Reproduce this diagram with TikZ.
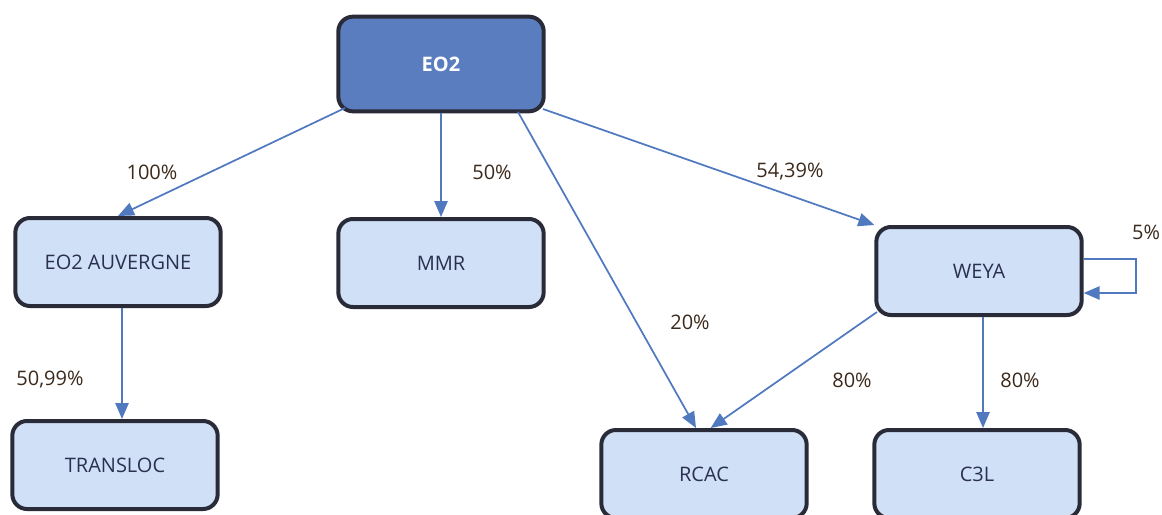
\documentclass[tikz,border=0pt]{standalone}
\usepackage{fontspec}
\setmainfont{Open Sans}
\usetikzlibrary{arrows.meta}
\definecolor{boxfill}{HTML}{D0E1F7}
\definecolor{topfill}{HTML}{5A7DC0}
\definecolor{boxline}{HTML}{2A2B38}
\definecolor{boxtext}{HTML}{2B3050}
\definecolor{arrowc}{HTML}{5079C0}
\definecolor{labc}{HTML}{3B2A1C}
\begin{document}
\begin{tikzpicture}[x=0.75pt,y=-0.75pt,
  entity/.style={draw=boxline, line width=3pt, rounded corners=11pt, fill=boxfill,
    minimum width=154pt, minimum height=66pt, text=boxtext, font=\fontsize{15}{18}\selectfont, inner sep=0pt},
  topbox/.style={entity, fill=topfill, text=white, font=\fontsize{15}{18}\selectfont\bfseries, minimum height=71pt},
  link/.style={draw=arrowc, line width=1.3pt, -{Triangle[length=12pt,width=10pt]}},
  pct/.style={text=labc, font=\fontsize{15}{18}\selectfont, inner sep=0pt}]
\useasboundingbox (0,0) rectangle (1162,514);
\begin{scope}
\clip (0,0) rectangle (1162,514);
\node[topbox] (eo2) at (441,64) {EO2};
\node[entity] (auv) at (118,262) {EO2 AUVERGNE};
\node[entity] (mmr) at (441,263) {MMR};
\node[entity] (weya) at (979,271) {WEYA};
\node[entity] (trans) at (115,465) {TRANSLOC};
\node[entity] (rcac) at (704,474) {RCAC};
\node[entity] (c3l) at (977,474) {C3L};
\end{scope}
\coordinate (eoA) at (345,108);
\coordinate (eoB) at (518,112);
\coordinate (eoC) at (543,109);
\draw[link] (eoA) -- (auv.north);
\draw[link] (eo2.south) -- (mmr.north);
\draw[link] (eoB) -- ([xshift=-6pt]rcac.north);
\draw[link] (eoC) -- (weya.north west);
\coordinate (wA) at (877,312);
\draw[link] (wA) -- ([xshift=5pt]rcac.north);
\draw[link] (weya.south) ++(4,0) coordinate (wS) -- (wS |- c3l.north);
\draw[link] (auv.south) ++(4,0) coordinate (aS) -- (aS |- trans.north);
\coordinate (lp1) at (1136,259);
\coordinate (lp2) at (1136,293);
\draw[link] (weya.east |- lp1) -- (lp1) -- (lp2) -- (weya.east |- lp2);
\node[pct] (l1) at (152,172) {100\%};
\node[pct] (l2) at (492,172) {50\%};
\node[pct] (l3) at (790,172) {54,39\%};
\node[pct] (l4) at (690,322) {20\%};
\node[pct] (l5) at (852,380) {80\%};
\node[pct] (l6) at (1020,380) {80\%};
\node[pct] (l7) at (1146,232) {5\%};
\node[pct] (l8) at (50,380) {50,99\%};
\end{tikzpicture}
\end{document}
